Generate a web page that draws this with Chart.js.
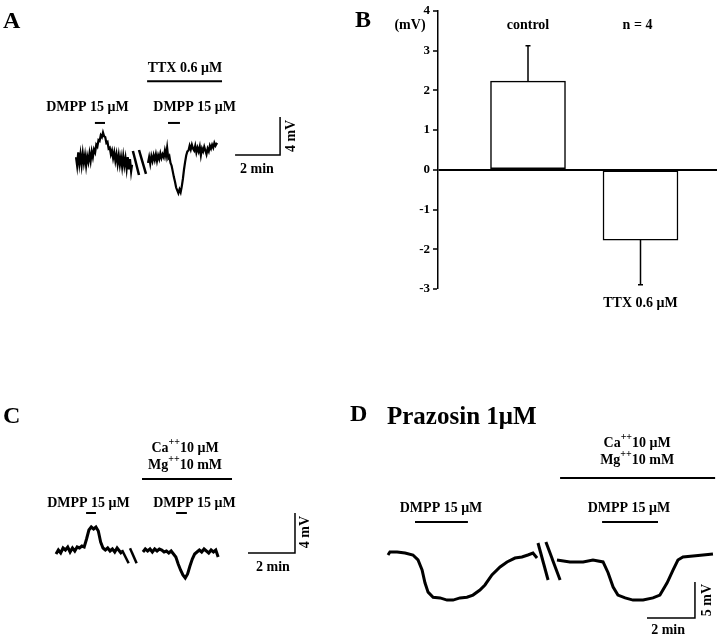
<!DOCTYPE html>
<html>
<head>
<meta charset="utf-8">
<script src="https://cdn.jsdelivr.net/npm/chart.js@4.4.0/dist/chart.umd.min.js"></script>
<style>
  body { margin: 0; background: #fff; }
  #fig { position: relative; width: 720px; height: 639px; overflow: hidden; background: #fff; }
  #fig canvas { position: absolute; }
</style>
</head>
<body>
<div id="fig">
  <canvas id="panelA" width="330" height="200" style="left:0;top:0"></canvas>
  <canvas id="panelB" width="390" height="330" style="left:330px;top:0"></canvas>
  <canvas id="panelC" width="330" height="230" style="left:0;top:380px"></canvas>
  <canvas id="panelD" width="380" height="259" style="left:340px;top:380px"></canvas>
</div>
<script>
const SERIF = '"Liberation Serif", "Times New Roman", serif';

// ---- A : DMPP depolarisation, then TTX (time in min, potential in mV) ----
const aPreTime  = [0, 0.05, 0.1, 0.15, 0.2, 0.25, 0.3, 0.35, 0.4, 0.45, 0.5, 0.55, 0.6, 0.65, 0.7, 0.75, 0.8, 0.85, 0.9, 0.95,
                   1.0, 1.05, 1.1, 1.15, 1.2, 1.25, 1.3, 1.35, 1.4, 1.45, 1.5, 1.55, 1.6, 1.65, 1.7, 1.75, 1.8, 1.85, 1.9, 1.95,
                   2.0, 2.05, 2.1, 2.15, 2.2, 2.25, 2.3, 2.35, 2.4, 2.45, 2.49];
const aPreMv    = [0.3, -0.6, 0.8, -0.4, 0.6, -0.5, 0.7, -0.3, 0.5, -0.6, 0.4, -0.2, 0.7, -0.1, 0.9, 0.3, 1.1, 0.8, 1.6, 1.4,
                   2.1, 2.0, 2.6, 2.4, 2.9, 2.5, 2.4, 1.8, 1.9, 1.2, 1.3, 0.6, 1.0, 0.2, 0.8, -0.1, 0.6, -0.4, 0.5, -0.5,
                   0.3, -0.7, 0.4, -0.6, 0.2, -0.9, 0.3, -1.0, 0.1, -1.2, -0.5];
const aPostTime = [3.2, 3.25, 3.3, 3.35, 3.4, 3.45, 3.5, 3.55, 3.6, 3.65, 3.7, 3.75, 3.8, 3.85, 3.9, 3.95, 4.0, 4.05, 4.1, 4.15,
                   4.2, 4.25, 4.3, 4.35, 4.4, 4.45, 4.5, 4.55, 4.6, 4.65, 4.7, 4.75, 4.8, 4.85, 4.9, 4.95, 5.0, 5.05, 5.1, 5.15,
                   5.2, 5.25, 5.3, 5.35, 5.4, 5.45, 5.5, 5.55, 5.6, 5.65, 5.7, 5.75, 5.8, 5.85, 5.9, 5.95, 6.0, 6.05, 6.1, 6.15,
                   6.2, 6.27];
const aPostMv   = [-0.3, 0.3, -0.4, 0.4, -0.1, 0.5, 0.0, 0.6, -0.1, 0.5, 0.1, 0.7, 0.2, 0.6, 0.3, 1.0, 0.4, 1.3, 0.2, 0.4,
                   -0.3, -0.6, -1.2, -1.8, -2.3, -2.9, -3.2, -3.5, -3.1, -3.4, -2.8, -2.0, -1.0, -0.2, 0.5, 0.9, 1.0, 1.5, 1.1, 1.6,
                   1.2, 1.0, 1.5, 0.8, 1.3, 0.9, 1.4, 0.5, 1.2, 0.9, 1.4, 1.0, 0.6, 1.2, 0.9, 1.5, 1.2, 1.6, 1.3, 1.8,
                   1.5, 1.8];
const aDmpp = [[0.84, 1.29], [4.09, 4.62]];
const aTtx  = [3.16, 6.49];

// ---- B : mean response, control vs TTX ----
const bLabels = ['control', 'TTX 0.6 μM'];
const bSlots  = [1, 2.25];
const bMeans  = [2.23, -1.77];
const bErrors = [0.89, 1.12];

// ---- C : DMPP, then low Ca / high Mg ----
const cPreTime  = [0, 0.1, 0.2, 0.3, 0.4, 0.5, 0.6, 0.7, 0.8, 0.9, 1.0, 1.1, 1.2, 1.3, 1.4, 1.5, 1.6, 1.7, 1.8, 1.9,
                   2.0, 2.1, 2.2, 2.3, 2.4, 2.5, 2.6, 2.7, 2.8];
const cPreMv    = [-0.3, 0.1, -0.2, 0.3, 0.1, 0.4, -0.1, 0.3, 0.0, 0.4, 0.3, 0.5, 0.4, 1.2, 2.1, 2.4, 2.2, 2.4, 2.0, 0.9,
                   0.3, 0.1, 0.3, 0.0, 0.2, -0.1, 0.3, 0.0, -0.3];
const cPostTime = [3.7, 3.8, 3.9, 4.0, 4.1, 4.2, 4.3, 4.4, 4.5, 4.6, 4.7, 4.8, 4.9, 5.0, 5.1, 5.2, 5.3, 5.4, 5.5, 5.6,
                   5.7, 5.8, 5.9, 6.0, 6.1, 6.2, 6.3, 6.4, 6.5, 6.6, 6.7, 6.8, 6.9];
const cPostMv   = [-0.1, 0.2, 0.0, 0.2, -0.1, 0.2, 0.0, 0.2, 0.1, -0.1, 0.0, -0.2, 0.0, -0.3, -0.6, -1.3, -1.9, -2.4, -2.7, -2.3,
                   -1.5, -0.8, -0.3, -0.1, 0.1, -0.1, 0.2, 0.0, -0.2, 0.1, -0.1, 0.1, -0.6];
const cDmpp = [[1.28, 1.70], [5.11, 5.57]];
const cCaMg = [3.66, 7.49];

// ---- D : prazosin, DMPP then low Ca / high Mg ----
const dPreTime  = [0, 0.08, 0.38, 0.71, 1.04, 1.25, 1.42, 1.54, 1.67, 1.88, 2.17, 2.46, 2.71, 3.0, 3.29, 3.54, 3.83, 4.04, 4.33, 4.67, 4.96, 5.29, 5.58, 5.83, 6.04, 6.21];
const dPreMv    = [-0.14, 0.28, 0.28, 0.14, -0.14, -0.83, -2.2, -4.0, -5.3, -6.0, -6.1, -6.4, -6.4, -6.1, -6.0, -5.7, -5.0, -4.3, -2.9, -1.8, -1.1, -0.56, -0.42, -0.14, 0.14, -0.56];
const dPostTime = [7.04, 7.58, 8.13, 8.54, 8.96, 9.17, 9.38, 9.58, 9.88, 10.21, 10.63, 11.04, 11.33, 11.63, 11.88, 12.08, 12.29, 12.71, 13.13, 13.54];
const dPostMv   = [-0.83, -1.1, -1.1, -0.83, -1.1, -2.6, -4.6, -5.7, -6.1, -6.4, -6.4, -6.1, -5.7, -4.0, -2.2, -0.83, -0.42, -0.28, -0.14, 0];
const dDmpp = [[1.125, 3.33], [8.92, 11.25]];
const dCaMg = [7.17, 13.63];

const pts = (ts, vs) => ts.map((t, i) => ({ x: t, y: vs[i] }));
const seg = (x0, x1, y) => [{ x: x0, y }, { x: x1, y }];
const lineDs = (data, width) => ({ data, borderColor: '#000', borderWidth: width, pointRadius: 0, tension: 0, fill: false });
// L-shaped calibration bar: horizontal dt min, vertical dv mV
const calib = (t, v, dt, dv) => lineDs([{ x: t, y: v }, { x: t + dt, y: v }, { x: t + dt, y: v + dv }], 1.5);

// text drawn through the chart's own scales (or in canvas pixels when px is set)
const textPlugin = {
  id: 'panelText',
  afterDraw(chart, args, opts) {
    const ctx = chart.ctx;
    (opts.items || []).forEach(it => {
      const x = it.px ? it.x : chart.scales.x.getPixelForValue(it.x);
      const y = it.px ? it.y : chart.scales.y.getPixelForValue(it.y);
      const size = it.size || 14, weight = it.weight || 'bold';
      const parts = it.parts || [[it.text, 0]];
      const fontFor = sup => `${weight} ${sup ? Math.round(size * 0.72) : size}px ${SERIF}`;
      ctx.save();
      let total = 0;
      parts.forEach(([t, s]) => { ctx.font = fontFor(s); total += ctx.measureText(t).width; });
      ctx.translate(x, y);
      if (it.rot) ctx.rotate(it.rot);
      ctx.fillStyle = '#000';
      ctx.textAlign = 'left';
      ctx.textBaseline = it.baseline || 'middle';
      let cx = it.align === 'left' ? 0 : -total / 2;
      parts.forEach(([t, s]) => {
        ctx.font = fontFor(s);
        ctx.fillText(t, cx, s ? -size * 0.38 : 0);
        cx += ctx.measureText(t).width;
      });
      ctx.restore();
    });
  }
};

function tracePanel(id, frame, datasets, items) {
  const cv = document.getElementById(id);
  const W = cv.width, H = cv.height;
  const [ox, oy] = frame.origin;
  return new Chart(cv, {
    type: 'line',
    data: { datasets },
    options: {
      responsive: false, animation: false, events: [],
      layout: { padding: 0 },
      plugins: { legend: { display: false }, tooltip: { enabled: false }, panelText: { items } },
      scales: {
        x: { type: 'linear', display: false, min: -ox / frame.pxPerMin, max: (W - ox) / frame.pxPerMin },
        y: { type: 'linear', display: false, min: -(H - oy) / frame.pxPerMv, max: oy / frame.pxPerMv }
      }
    },
    plugins: [textPlugin]
  });
}

const dmppText = (t, v) => ({ text: 'DMPP 15 μM', x: t, y: v, size: 14 });
const caText = (t, v) => ({ parts: [['Ca', 0], ['++', 1], ['10 μM', 0]], x: t, y: v });
const mgText = (t, v) => ({ parts: [['Mg', 0], ['++', 1], ['10 mM', 0]], x: t, y: v });

// panel A
tracePanel('panelA', { origin: [76, 160], pxPerMin: 22.5, pxPerMv: 9.5 }, [
  lineDs(pts(aPreTime, aPreMv), 2.2),
  lineDs(pts(aPostTime, aPostMv), 2.2),
  ...aDmpp.map(([a, b]) => lineDs(seg(a, b, 3.9), 2)),
  lineDs(seg(aTtx[0], aTtx[1], 8.3), 2),
  lineDs([{ x: 2.53, y: 0.95 }, { x: 2.8, y: -1.58 }], 2.5),
  lineDs([{ x: 2.8, y: 1.05 }, { x: 3.11, y: -1.47 }], 2.5),
  calib(7.07, 0.53, 2, 4)
], [
  { text: 'A', x: 3, y: 28, px: true, size: 24, align: 'left', baseline: 'alphabetic' },
  { text: 'TTX 0.6 μM', x: 4.84, y: 9.68 },
  dmppText(0.51, 5.58), dmppText(5.27, 5.58),
  { text: '2 min', x: 8.04, y: -0.95 },
  { text: '4 mV', x: 9.56, y: 2.53, rot: -Math.PI / 2 }
]);

// panel C
tracePanel('panelC', { origin: [56, 171], pxPerMin: 23.5, pxPerMv: 10 }, [
  lineDs(pts(cPreTime, cPreMv), 3),
  lineDs(pts(cPostTime, cPostMv), 3),
  ...cDmpp.map(([a, b]) => lineDs(seg(a, b, 3.8), 2)),
  lineDs(seg(cCaMg[0], cCaMg[1], 7.2), 2),
  lineDs([{ x: 2.81, y: 0.1 }, { x: 3.09, y: -1.23 }], 2.5),
  lineDs([{ x: 3.15, y: 0.27 }, { x: 3.43, y: -1.23 }], 2.5),
  calib(8.17, -0.2, 2, 4)
], [
  { text: 'C', x: 3, y: 43, px: true, size: 24, align: 'left', baseline: 'alphabetic' },
  caText(5.49, 10.3), mgText(5.49, 8.6),
  dmppText(1.38, 4.8), dmppText(5.89, 4.8),
  { text: '2 min', x: 9.23, y: -1.6 },
  { text: '4 mV', x: 10.6, y: 1.9, rot: -Math.PI / 2 }
]);

// panel D
tracePanel('panelD', { origin: [48, 174], pxPerMin: 24, pxPerMv: 7.2 }, [
  lineDs(pts(dPreTime, dPreMv), 3),
  lineDs(pts(dPostTime, dPostMv), 3),
  ...dDmpp.map(([a, b]) => lineDs(seg(a, b, 4.44), 2)),
  lineDs(seg(dCaMg[0], dCaMg[1], 10.56), 2),
  lineDs([{ x: 6.25, y: 1.53 }, { x: 6.67, y: -3.61 }], 3),
  lineDs([{ x: 6.58, y: 1.67 }, { x: 7.17, y: -3.61 }], 3),
  calib(10.79, -8.89, 2, 5)
], [
  { text: 'D', x: 10, y: 41, px: true, size: 24, align: 'left', baseline: 'alphabetic' },
  { text: 'Prazosin 1μM', x: 47, y: 44, px: true, size: 25, align: 'left', baseline: 'alphabetic' },
  caText(10.38, 15.4), mgText(10.38, 13.06),
  dmppText(2.21, 6.39), dmppText(10.04, 6.39),
  { text: '2 min', x: 11.67, y: -10.56 },
  { text: '5 mV', x: 13.29, y: -6.39, rot: -Math.PI / 2 }
]);

// panel B : bar chart with one-sided error bars
const errorBars = {
  id: 'errorBars',
  afterDatasetsDraw(chart) {
    const ctx = chart.ctx, ys = chart.scales.y;
    ctx.save();
    ctx.strokeStyle = '#000';
    ctx.lineWidth = 1.5;
    chart.getDatasetMeta(0).data.forEach((bar, i) => {
      const m = bMeans[i], end = ys.getPixelForValue(m + Math.sign(m) * bErrors[i]);
      ctx.beginPath();
      ctx.moveTo(bar.x, bar.y);
      ctx.lineTo(bar.x, end);
      ctx.moveTo(bar.x - 2.5, end);
      ctx.lineTo(bar.x + 2.5, end);
      ctx.stroke();
    });
    ctx.restore();
  }
};

const bText = {
  id: 'bText',
  afterDraw(chart) {
    const ctx = chart.ctx, xs = chart.scales.x;
    ctx.save();
    ctx.fillStyle = '#000';
    ctx.textAlign = 'center';
    ctx.textBaseline = 'middle';
    ctx.font = `bold 14px ${SERIF}`;
    ctx.fillText('(mV)', 80, 25);
    ctx.fillText(bLabels[0], xs.getPixelForValue(bSlots[0]), 25);
    ctx.fillText('n = 4', xs.getPixelForValue(bSlots[1]) - 3, 25);
    ctx.fillText(bLabels[1], xs.getPixelForValue(bSlots[1]), 303);
    ctx.font = `bold 24px ${SERIF}`;
    ctx.textAlign = 'left';
    ctx.textBaseline = 'alphabetic';
    ctx.fillText('B', 25, 27);
    ctx.restore();
  }
};

new Chart(document.getElementById('panelB'), {
  type: 'bar',
  data: {
    datasets: [{
      data: bSlots.map((x, i) => ({ x, y: bMeans[i] })),
      backgroundColor: '#fff',
      borderColor: '#000',
      borderWidth: 1.5,
      borderSkipped: false,
      barThickness: 75
    }]
  },
  options: {
    responsive: false, animation: false, events: [],
    layout: { padding: { top: 8, bottom: 41, right: 3, left: 0 } },
    plugins: { legend: { display: false }, tooltip: { enabled: false } },
    scales: {
      x: { type: 'linear', display: false, offset: false, min: 0, max: 3.1 },
      y: {
        min: -3, max: 4,
        afterFit: s => { s.width = 108; },
        ticks: { stepSize: 1, color: '#000', padding: 3, font: { family: SERIF, size: 13, weight: 'bold' } },
        grid: {
          drawOnChartArea: true,
          color: c => (c.tick && c.tick.value === 0 ? '#000' : 'rgba(0,0,0,0)'),
          lineWidth: c => (c.tick && c.tick.value === 0 ? 2 : 0),
          tickColor: '#000', tickLength: 5, tickWidth: 1.5
        },
        border: { display: true, color: '#000', width: 1.5 }
      }
    }
  },
  plugins: [errorBars, bText]
});
</script>
</body>
</html>
